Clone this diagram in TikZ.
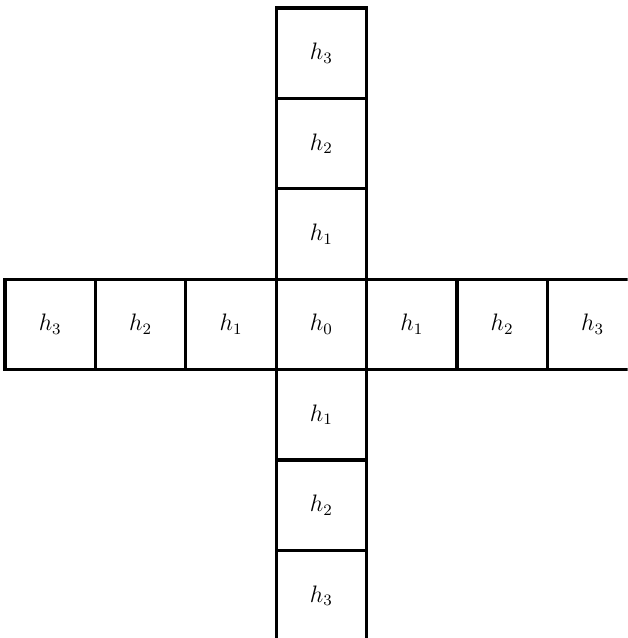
\documentclass[tikz,border=0pt]{standalone}
\usepackage{tikz}

\begin{document}
\begin{tikzpicture}[x=1.6cm,y=1.6cm,font=\large,
    cell/.style={draw,line width=1.6pt,minimum size=1.6cm,inner sep=0pt}]
  \clip (-3.556,-3.47) rectangle (3.389,3.589);
  \node[cell] (h0) at (0,0) {$h_0$};
  \foreach \i in {1,2,3}{
    \node[cell] (west\i)  at (-\i,0) {$h_\i$};
    \node[cell] (east\i)  at (\i,0)  {$h_\i$};
    \node[cell] (north\i) at (0,\i)  {$h_\i$};
    \node[cell] (south\i) at (0,-\i) {$h_\i$};}
\end{tikzpicture}
\end{document}
